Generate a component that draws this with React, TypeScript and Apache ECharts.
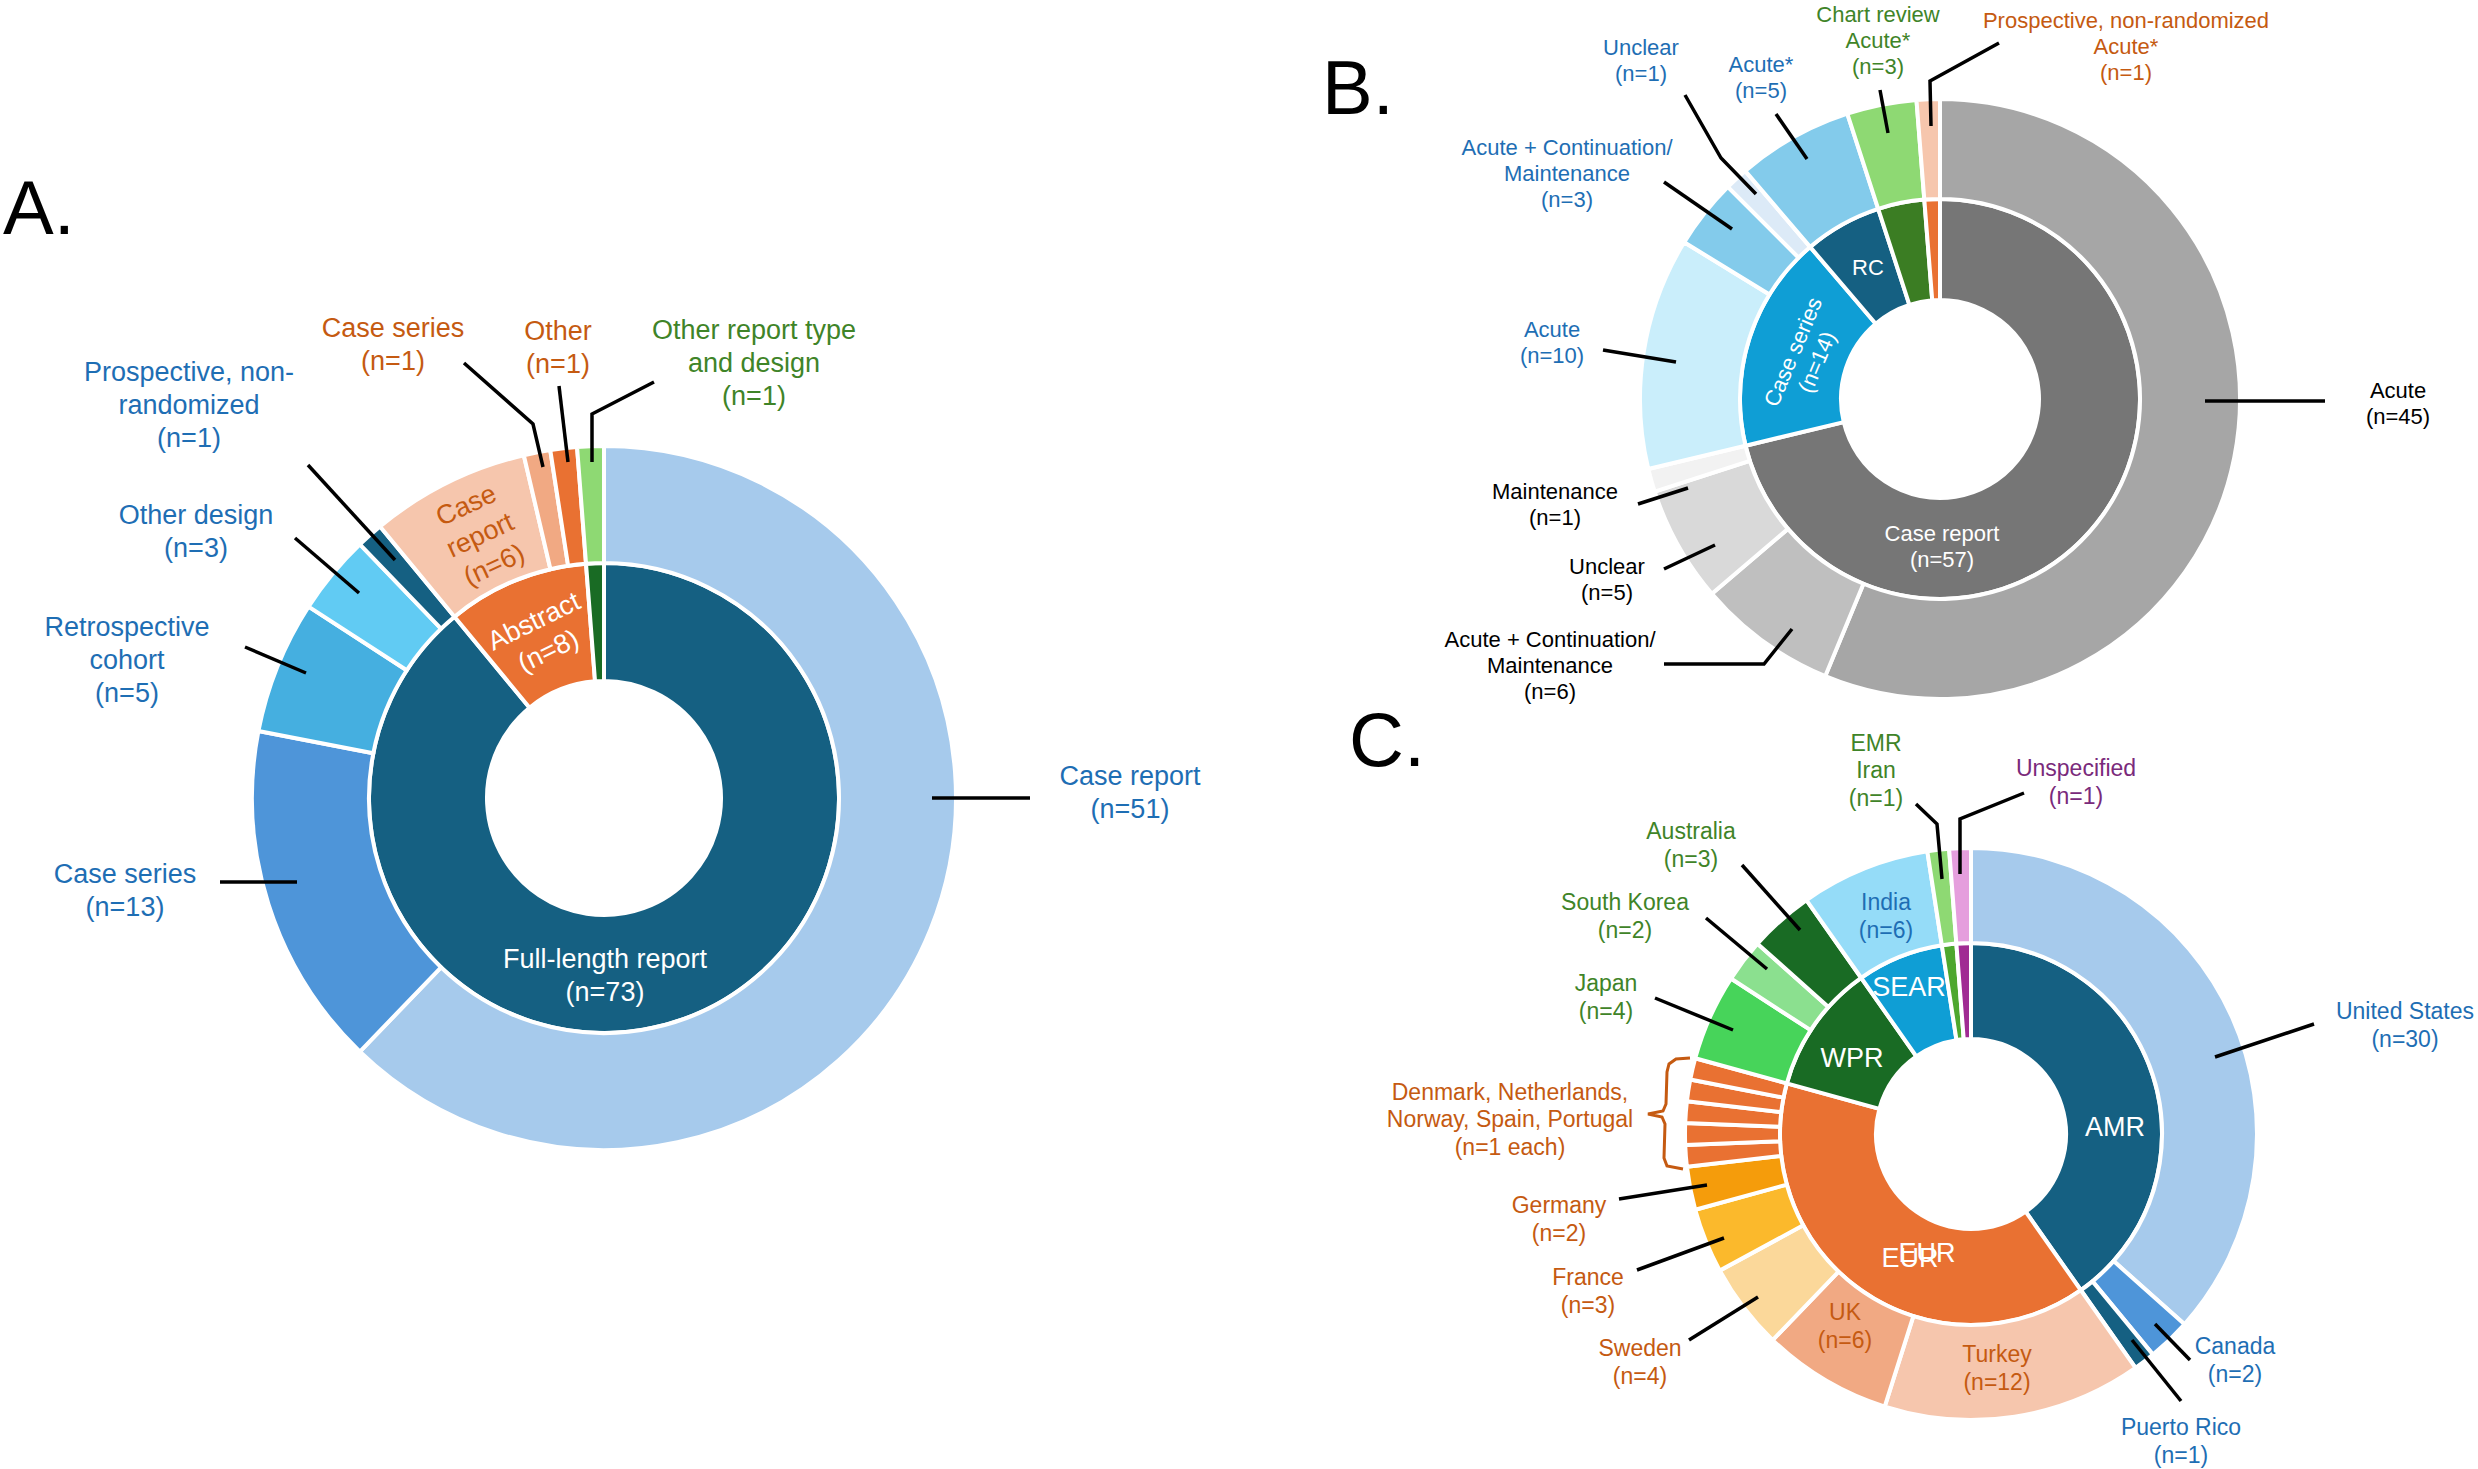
import React, { useEffect, useRef } from "react";
import * as echarts from "echarts";

// ---------------- DATA ----------------
// Panel A: report type (inner) and study design (outer)
const aInnerNames = ["Full-length report", "Abstract", "Other report type and design"];
const aInnerValues = [73, 8, 1];
const aOuterNames = ["Case report", "Case series", "Retrospective cohort", "Other design", "Prospective, non-randomized", "Case report", "Case series", "Other", "Other report type and design"];
const aOuterValues = [51, 13, 5, 3, 1, 6, 1, 1, 1];
const aInnerTpl = ["Full-length report\n(n=%n)", "Abstract\n(n=%n)", ""];
const aOuterTpl = ["Case report\n(n=%n)", "Case series\n(n=%n)", "Retrospective\ncohort\n(n=%n)", "Other design\n(n=%n)", "Prospective, non-\nrandomized\n(n=%n)", "Case\nreport\n(n=%n)", "Case series\n(n=%n)", "Other\n(n=%n)", "Other report type\nand design\n(n=%n)"];

// Panel B: design (inner) and treatment phase (outer)
const bInnerNames = ["Case report", "Case series", "RC", "Chart review", "Prospective, non-randomized"];
const bInnerValues = [57, 14, 5, 3, 1];
const bOuterNames = ["Acute", "Acute + Continuation/Maintenance", "Unclear", "Maintenance", "Acute", "Acute + Continuation/Maintenance", "Unclear", "Acute*", "Acute*", "Acute*"];
const bOuterValues = [45, 6, 5, 1, 10, 3, 1, 5, 3, 1];
const bInnerTpl = ["Case report\n(n=%n)", "Case series\n(n=%n)", "RC", "", ""];
const bOuterTpl = ["Acute\n(n=%n)", "Acute + Continuation/\nMaintenance\n(n=%n)", "Unclear\n(n=%n)", "Maintenance\n(n=%n)", "Acute\n(n=%n)", "Acute + Continuation/\nMaintenance\n(n=%n)", "Unclear\n(n=%n)", "Acute*\n(n=%n)", "Chart review\nAcute*\n(n=%n)", "Prospective, non-randomized\nAcute*\n(n=%n)"];

// Panel C: WHO region (inner) and country (outer)
const cInnerNames = ["AMR", "EUR", "WPR", "SEAR", "EMR", "Unspecified"];
const cInnerValues = [33, 32, 9, 6, 1, 1];
const cOuterNames = ["United States", "Canada", "Puerto Rico", "Turkey", "UK", "Sweden", "France", "Germany", "Denmark", "Netherlands", "Norway", "Spain", "Portugal", "Japan", "South Korea", "Australia", "India", "Iran", "Unspecified"];
const cOuterValues = [30, 2, 1, 12, 6, 4, 3, 2, 1, 1, 1, 1, 1, 4, 2, 3, 6, 1, 1];
const cInnerTpl = ["AMR", "EUR", "WPR", "SEAR", "", ""];
const cOuterTpl = ["United States\n(n=%n)", "Canada\n(n=%n)", "Puerto Rico\n(n=%n)", "Turkey\n(n=%n)", "UK\n(n=%n)", "Sweden\n(n=%n)", "France\n(n=%n)", "Germany\n(n=%n)", "Denmark, Netherlands,\nNorway, Spain, Portugal\n(n=%n each)", "", "", "", "", "Japan\n(n=%n)", "South Korea\n(n=%n)", "Australia\n(n=%n)", "India\n(n=%n)", "EMR\nIran\n(n=%n)", "Unspecified\n(n=%n)"];

// ---------------- STYLES ----------------
const FONT = "'Liberation Sans', Arial, Helvetica, sans-serif";
const BT = "#1E6EB4";
const OT = "#C55A11";
const GT = "#3F8428";
const PT = "#7A2A7B";
const WT = "#FFFFFF";
const KT = "#000000";

const aInnerColors = ["#156082", "#E97132", "#196B24"];
const aOuterColors = ["#A6CAEC", "#4E95D9", "#45AFE0", "#61CBF3", "#156082", "#F6C6AD", "#F1A983", "#E97132", "#8ED973"];
const aInnerLabelColors = [WT, WT, WT];
const aOuterLabelColors = [BT, BT, BT, BT, BT, OT, OT, OT, GT];

const bInnerColors = ["#767676", "#0F9ED5", "#156082", "#3B7D23", "#E97132"];
const bOuterColors = ["#A6A6A6", "#BFBFBF", "#D9D9D9", "#F2F2F2", "#CAEEFB", "#83CBEB", "#DCEAF7", "#83CBEB", "#8ED973", "#F6C6AD"];
const bInnerLabelColors = [WT, WT, WT, WT, WT];
const bOuterLabelColors = [KT, KT, KT, KT, BT, BT, BT, BT, GT, OT];

const cInnerColors = ["#156082", "#E97132", "#196B24", "#0F9ED5", "#4EA72E", "#A02B93"];
const cOuterColors = ["#A6CAEC", "#4E95D9", "#156082", "#F6C6AD", "#F1A983", "#FBD89A", "#FBB92C", "#F59C0B", "#E97132", "#E97132", "#E97132", "#E97132", "#E97132", "#47D45A", "#8BE08F", "#196B24", "#95DCF8", "#8ED973", "#E59EDD"];
const cInnerLabelColors = [WT, WT, WT, WT, WT, WT];
const cOuterLabelColors = [BT, BT, BT, OT, OT, OT, OT, OT, OT, OT, OT, OT, OT, GT, GT, GT, BT, GT, PT];

// ---------------- LABEL LAYOUT (pixel positions) ----------------
type LP = { x: number; y: number; rot?: number; pts?: number[][]; inside?: boolean };

const aInnerLayout: Record<number, LP> = {
  0: { x: 605, y: 975 },
  1: { x: 541, y: 636, rot: 26 },
};
const aOuterLayout: Record<number, LP> = {
  0: { x: 1130, y: 792, pts: [[932, 798], [1030, 798]] },
  1: { x: 125, y: 890, pts: [[297, 882], [220, 882]] },
  2: { x: 127, y: 660, pts: [[306, 673], [245, 647]] },
  3: { x: 196, y: 531, pts: [[359, 593], [295, 538]] },
  4: { x: 189, y: 405, pts: [[395, 560], [308, 465]] },
  5: { x: 480, y: 535, rot: 25, inside: true },
  6: { x: 393, y: 344, pts: [[543, 467], [533, 424], [464, 363]] },
  7: { x: 558, y: 347, pts: [[568, 462], [559, 386]] },
  8: { x: 754, y: 363, pts: [[592, 462], [592, 414], [654, 382]] },
};

const bInnerLayout: Record<number, LP> = {
  0: { x: 1942, y: 546 },
  1: { x: 1805, y: 357, rot: 67 },
  2: { x: 1868, y: 267 },
};
const bOuterLayout: Record<number, LP> = {
  0: { x: 2398, y: 403, pts: [[2205, 401], [2325, 401]] },
  1: { x: 1550, y: 665, pts: [[1792, 629], [1764, 664], [1664, 664]] },
  2: { x: 1607, y: 579, pts: [[1715, 545], [1664, 569]] },
  3: { x: 1555, y: 504, pts: [[1688, 488], [1638, 504]] },
  4: { x: 1552, y: 342, pts: [[1676, 362], [1603, 350]] },
  5: { x: 1567, y: 173, pts: [[1732, 229], [1664, 182]] },
  6: { x: 1641, y: 60, pts: [[1756, 194], [1721, 158], [1685, 95]] },
  7: { x: 1761, y: 77, pts: [[1807, 159], [1776, 114]] },
  8: { x: 1878, y: 40, pts: [[1888, 133], [1880, 90]] },
  9: { x: 2126, y: 46, pts: [[1931, 126], [1930, 81], [1999, 43]] },
};

const cInnerLayout: Record<number, LP> = {
  0: { x: 2115, y: 1127 },
  1: { x: 1910, y: 1258 },
  2: { x: 1852, y: 1058 },
  3: { x: 1909, y: 987 },
};
const cOuterLayout: Record<number, LP> = {
  0: { x: 2405, y: 1025, pts: [[2215, 1057], [2314, 1024]] },
  1: { x: 2235, y: 1360, pts: [[2155, 1324], [2190, 1360]] },
  2: { x: 2181, y: 1441, pts: [[2132, 1340], [2181, 1401]] },
  3: { x: 1997, y: 1368, inside: true },
  4: { x: 1845, y: 1326, inside: true },
  5: { x: 1640, y: 1362, pts: [[1758, 1297], [1689, 1340]] },
  6: { x: 1588, y: 1291, pts: [[1724, 1238], [1637, 1270]] },
  7: { x: 1559, y: 1219, pts: [[1707, 1185], [1619, 1199]] },
  8: { x: 1510, y: 1119 },
  13: { x: 1606, y: 997, pts: [[1733, 1030], [1655, 998]] },
  14: { x: 1625, y: 916, pts: [[1767, 969], [1706, 918]] },
  15: { x: 1691, y: 845, pts: [[1800, 930], [1742, 865]] },
  16: { x: 1886, y: 916, inside: true },
  17: { x: 1876, y: 770, pts: [[1942, 879], [1937, 824], [1916, 804]] },
  18: { x: 2076, y: 782, pts: [[1960, 874], [1960, 819], [2024, 793]] },
};

type RingCfg = {
  center: number[];
  radius: number[];
  names: string[];
  values: number[];
  colors: string[];
  tpls: string[];
  labelColors: string[];
  layout: Record<number, LP>;
  fontSize: number;
  lineHeight: number;
  allInside: boolean;
};

// Coloured ring (no labels)
function fillRing(cfg: RingCfg): any {
  const { center, radius, names, values, colors } = cfg;
  return {
    type: "pie",
    z: 2,
    center,
    radius,
    startAngle: 90,
    clockwise: true,
    silent: true,
    avoidLabelOverlap: false,
    itemStyle: { borderColor: "#FFFFFF", borderWidth: 4 },
    label: { show: false },
    labelLine: { show: false },
    emphasis: { disabled: true },
    data: names.map((name, i) => ({ name, value: values[i], itemStyle: { color: colors[i] } })),
  };
}

// Transparent twin ring drawn above, carrying labels and leader lines
function labelRing(cfg: RingCfg): any {
  const { center, radius, names, values, tpls, labelColors, layout, fontSize, lineHeight, allInside } = cfg;
  const data = names.map((name, i) => {
    const lp = layout[i];
    const show = tpls[i] !== "";
    const inside = allInside || !!(lp && lp.inside);
    return {
      name,
      value: values[i],
      itemStyle: { color: "rgba(0,0,0,0)", borderWidth: 0 },
      label: { show, color: labelColors[i], position: inside ? "inside" : "outside" },
      labelLine: { show: show && !inside && !!(lp && lp.pts) },
    };
  });
  return {
    type: "pie",
    z: 5,
    center,
    radius,
    startAngle: 90,
    clockwise: true,
    avoidLabelOverlap: false,
    silent: true,
    label: {
      show: true,
      fontFamily: FONT,
      fontSize,
      lineHeight,
      overflow: "none",
      textBorderWidth: 0,
      formatter: (p: any) => tpls[p.dataIndex].replace("%n", String(p.value)),
    },
    labelLine: { show: true, showAbove: true, smooth: false, lineStyle: { color: "#000000", width: 3.5 } },
    emphasis: { disabled: true },
    labelLayout: (p: any) => {
      const t = layout[p.dataIndex];
      if (!t) return {};
      const o: any = { x: t.x, y: t.y, align: "center", verticalAlign: "middle", rotate: t.rot || 0 };
      if (t.pts) o.labelLinePoints = t.pts;
      return o;
    },
    data,
  };
}

const rings: RingCfg[] = [
  { center: [604, 798], radius: [117, 235], names: aInnerNames, values: aInnerValues, colors: aInnerColors, tpls: aInnerTpl, labelColors: aInnerLabelColors, layout: aInnerLayout, fontSize: 27, lineHeight: 33, allInside: true },
  { center: [604, 798], radius: [235, 352], names: aOuterNames, values: aOuterValues, colors: aOuterColors, tpls: aOuterTpl, labelColors: aOuterLabelColors, layout: aOuterLayout, fontSize: 27, lineHeight: 33, allInside: false },
  { center: [1940, 399], radius: [99, 200], names: bInnerNames, values: bInnerValues, colors: bInnerColors, tpls: bInnerTpl, labelColors: bInnerLabelColors, layout: bInnerLayout, fontSize: 22, lineHeight: 26, allInside: true },
  { center: [1940, 399], radius: [200, 300], names: bOuterNames, values: bOuterValues, colors: bOuterColors, tpls: bOuterTpl, labelColors: bOuterLabelColors, layout: bOuterLayout, fontSize: 22, lineHeight: 26, allInside: false },
  { center: [1971, 1134], radius: [95, 191], names: cInnerNames, values: cInnerValues, colors: cInnerColors, tpls: cInnerTpl, labelColors: cInnerLabelColors, layout: cInnerLayout, fontSize: 27, lineHeight: 32, allInside: true },
  { center: [1971, 1134], radius: [191, 286], names: cOuterNames, values: cOuterValues, colors: cOuterColors, tpls: cOuterTpl, labelColors: cOuterLabelColors, layout: cOuterLayout, fontSize: 23, lineHeight: 27.5, allInside: false },
];

function buildOption(): any {
  return {
    animation: false,
    backgroundColor: "#FFFFFF",
    series: [...rings.map(fillRing), ...rings.map(labelRing)],
    graphic: [
      { type: "text", x: 3, y: 207, style: { text: "A.", fontSize: 76, fontFamily: FONT, fill: "#000000", align: "left", verticalAlign: "middle" } },
      { type: "text", x: 1322, y: 87, style: { text: "B.", fontSize: 76, fontFamily: FONT, fill: "#000000", align: "left", verticalAlign: "middle" } },
      { type: "text", x: 1349, y: 739, style: { text: "C.", fontSize: 76, fontFamily: FONT, fill: "#000000", align: "left", verticalAlign: "middle" } },
      { type: "text", x: 1927, y: 1253, z: 100, style: { text: "EUR", fontSize: 27, fontFamily: FONT, fill: "#FFFFFF", align: "center", verticalAlign: "middle" } },
      {
        type: "polyline",
        z: 100,
        shape: {
          points: [[1690, 1058], [1676, 1059], [1669, 1064], [1667, 1072], [1666, 1104], [1663, 1111], [1648, 1114], [1662, 1117], [1665, 1124], [1664, 1158], [1667, 1166], [1683, 1169]],
        },
        style: { stroke: OT, lineWidth: 3, fill: "none" },
      },
    ],
  };
}

export default function App() {
  const ref = useRef<HTMLDivElement>(null);
  useEffect(() => {
    if (!ref.current) return;
    const chart = echarts.init(ref.current, null, { renderer: "svg" });
    chart.setOption(buildOption());
    return () => chart.dispose();
  }, []);
  return (
    <div
      ref={ref}
      style={{ position: "fixed", left: 0, top: 0, width: 2478, height: 1469, background: "#FFFFFF" }}
    />
  );
}
